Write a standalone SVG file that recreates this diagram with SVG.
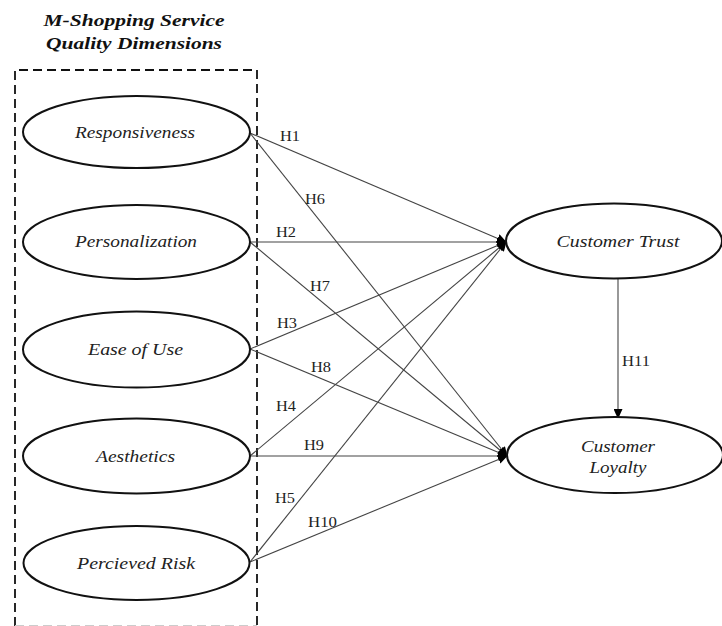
<svg xmlns="http://www.w3.org/2000/svg" width="722" height="626" viewBox="0 0 722 626">
<style>
.title{font-family:"Liberation Serif","Times New Roman",serif;font-size:17px;font-weight:bold;font-style:italic;fill:#111;text-anchor:middle}
.node ellipse{fill:#fff;stroke:#111;stroke-width:2}
.node text{font-family:"Liberation Serif","Times New Roman",serif;font-size:17px;font-style:italic;fill:#222;text-anchor:middle}
.conn line{stroke:#444;stroke-width:1.1;marker-end:url(#ah)}
.lbl{font-family:"Liberation Serif","Times New Roman",serif;font-size:14px;fill:#222}
.box{fill:none;stroke:#111;stroke-width:1.8;stroke-dasharray:9 5}
</style>
<defs>
<marker id="ah" markerUnits="userSpaceOnUse" markerWidth="10" markerHeight="9" refX="9" refY="4.5" orient="auto">
<path d="M0,0 L10,4.5 L0,9 z" fill="#000"/>
</marker>
</defs>
<rect width="722" height="626" fill="#fff"/>
<text class="title" x="134" y="26" textLength="181" lengthAdjust="spacingAndGlyphs">M-Shopping Service</text>
<text class="title" x="134" y="49" textLength="176" lengthAdjust="spacingAndGlyphs">Quality Dimensions</text>
<path class="box" d="M15,626 V70 H257 V626"/>
<line x1="15" y1="625.5" x2="257" y2="625.5" stroke="#ccc" stroke-width="1" stroke-dasharray="9 5"/>
<g class="conn">
<line x1="250" y1="133" x2="506" y2="242"/>
<line x1="250" y1="133" x2="507" y2="456"/>
<line x1="250" y1="242" x2="506" y2="242"/>
<line x1="250" y1="242" x2="507" y2="456"/>
<line x1="250" y1="349" x2="506" y2="242"/>
<line x1="250" y1="349" x2="507" y2="456"/>
<line x1="250" y1="456" x2="506" y2="242"/>
<line x1="250" y1="456" x2="507" y2="456"/>
<line x1="250" y1="562" x2="506" y2="242"/>
<line x1="250" y1="562" x2="507" y2="456"/>
<line x1="618" y1="278" x2="618" y2="418"/>
</g>
<g id="labels">
<text class="lbl" x="280" y="141" textLength="20" lengthAdjust="spacingAndGlyphs">H1</text>
<text class="lbl" x="305" y="204" textLength="20" lengthAdjust="spacingAndGlyphs">H6</text>
<text class="lbl" x="276" y="237" textLength="20" lengthAdjust="spacingAndGlyphs">H2</text>
<text class="lbl" x="310" y="291" textLength="20" lengthAdjust="spacingAndGlyphs">H7</text>
<text class="lbl" x="277" y="328" textLength="20" lengthAdjust="spacingAndGlyphs">H3</text>
<text class="lbl" x="311" y="372" textLength="20" lengthAdjust="spacingAndGlyphs">H8</text>
<text class="lbl" x="276" y="411" textLength="20" lengthAdjust="spacingAndGlyphs">H4</text>
<text class="lbl" x="304" y="450" textLength="20" lengthAdjust="spacingAndGlyphs">H9</text>
<text class="lbl" x="275" y="503" textLength="20" lengthAdjust="spacingAndGlyphs">H5</text>
<text class="lbl" x="308" y="527" textLength="29" lengthAdjust="spacingAndGlyphs">H10</text>
<text class="lbl" x="622" y="366" textLength="28" lengthAdjust="spacingAndGlyphs">H11</text>
</g>
<g id="responsiveness" class="node">
<ellipse cx="136.5" cy="132" rx="113.5" ry="36"/>
<text x="135" y="138" textLength="120" lengthAdjust="spacingAndGlyphs">Responsiveness</text>
</g>
<g id="personalization" class="node">
<ellipse cx="136.5" cy="242" rx="113.5" ry="37"/>
<text x="136" y="247" textLength="122" lengthAdjust="spacingAndGlyphs">Personalization</text>
</g>
<g id="ease-of-use" class="node">
<ellipse cx="136.5" cy="349.5" rx="113.5" ry="38"/>
<text x="135.5" y="355" textLength="95" lengthAdjust="spacingAndGlyphs">Ease of Use</text>
</g>
<g id="aesthetics" class="node">
<ellipse cx="136.5" cy="456" rx="113.5" ry="37.5"/>
<text x="135.5" y="462" textLength="79" lengthAdjust="spacingAndGlyphs">Aesthetics</text>
</g>
<g id="perceived-risk" class="node">
<ellipse cx="136.5" cy="563" rx="113" ry="37"/>
<text x="136" y="569" textLength="118" lengthAdjust="spacingAndGlyphs">Percieved Risk</text>
</g>
<g id="customer-trust" class="node">
<ellipse cx="614" cy="241" rx="108" ry="37.5"/>
<text x="618" y="247" textLength="123" lengthAdjust="spacingAndGlyphs">Customer Trust</text>
</g>
<g id="customer-loyalty" class="node">
<ellipse cx="615" cy="455" rx="108" ry="38"/>
<text x="618" y="452" textLength="74" lengthAdjust="spacingAndGlyphs">Customer</text>
<text x="618" y="473" textLength="57" lengthAdjust="spacingAndGlyphs">Loyalty</text>
</g>
</svg>
